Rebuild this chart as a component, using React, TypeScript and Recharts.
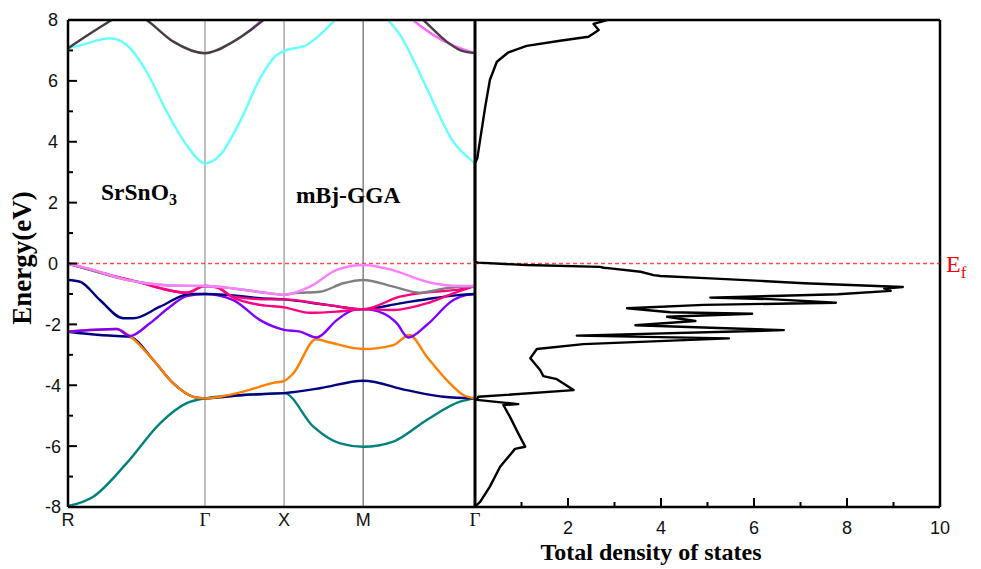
import React from 'react';
import { ComposedChart, Line, XAxis, YAxis, ReferenceLine, ScatterChart, Scatter } from 'recharts';

type Pt = [number, number];

// path R-Γ-X-M-Γ, lengths in units of 2π/a
const kPoints = [0, 0.866, 1.366, 1.866, 2.573];
const kLabels = ['R', 'Γ', 'X', 'M', 'Γ'];
const energyTicks = [-8, -7, -6, -5, -4, -3, -2, -1, 0, 1, 2, 3, 4, 5, 6, 7, 8];
const dosTicks = [0, 1, 2, 3, 4, 5, 6, 7, 8, 9, 10];
const fermiLevel = 0;

// bands as [k, E(eV)]
const bandTeal: Pt[] = [
  [0, -7.97], [0.16, -7.66], [0.371, -6.56], [0.582, -5.25], [0.75, -4.59], [0.866, -4.43],
  [1.108, -4.32], [1.366, -4.26], [1.551, -5.36], [1.72, -5.91], [1.866, -6.02], [2.057, -5.85],
  [2.268, -5.14], [2.478, -4.54], [2.573, -4.43],
];
const bandNavyLow: Pt[] = [
  [0, -2.24], [0.202, -2.35], [0.371, -2.4], [0.392, -2.41], [0.539, -3.17], [0.666, -3.94],
  [0.792, -4.38], [0.866, -4.43], [1.108, -4.32], [1.366, -4.26], [1.593, -4.1], [1.866, -3.85],
  [2.141, -4.16], [2.373, -4.38], [2.573, -4.43],
];
const bandOrange: Pt[] = [
  [0, -2.24], [0.308, -2.15], [0.392, -2.39], [0.539, -3.17], [0.666, -3.94], [0.792, -4.38],
  [0.866, -4.43], [1.108, -4.21], [1.298, -3.92], [1.366, -3.86], [1.424, -3.61], [1.568, -2.49],
  [1.636, -2.57], [1.866, -2.81], [2.057, -2.68], [2.158, -2.35], [2.268, -3.06], [2.394, -3.83],
  [2.499, -4.32], [2.573, -4.43],
];
const bandPurple: Pt[] = [
  [0, -2.24], [0.308, -2.15], [0.392, -2.38], [0.518, -1.96], [0.645, -1.42], [0.75, -1.07],
  [0.866, -1.0], [1.045, -1.2], [1.214, -1.86], [1.366, -2.18], [1.467, -2.24], [1.572, -2.43],
  [1.699, -1.86], [1.804, -1.53], [1.866, -1.5], [1.993, -1.64], [2.078, -1.96], [2.151, -2.43],
  [2.268, -2.02], [2.436, -1.2], [2.521, -1.03], [2.573, -1.0],
];
const bandNavyHigh: Pt[] = [
  [0, -0.54], [0.076, -0.6], [0.202, -1.2], [0.35, -1.8], [0.413, -1.8], [0.582, -1.42],
  [0.771, -1.0], [0.866, -1.0], [1.003, -1.03], [1.214, -1.14], [1.366, -1.18], [1.636, -1.36],
  [1.866, -1.5], [2.099, -1.31], [2.309, -1.14], [2.478, -1.03], [2.573, -1.0],
];
const bandRoseLow: Pt[] = [
  [0, 0], [0.266, -0.38], [0.476, -0.65], [0.582, -0.81], [0.75, -0.96], [0.866, -0.74],
  [0.94, -0.78], [1.045, -1.12], [1.214, -1.36], [1.366, -1.44], [1.53, -1.62], [1.699, -1.58],
  [1.866, -1.5], [2.057, -1.53], [2.268, -1.31], [2.436, -0.98], [2.573, -0.74],
];
const bandRoseHigh: Pt[] = [
  [0, 0], [0.266, -0.38], [0.476, -0.65], [0.582, -0.81], [0.75, -0.96], [0.866, -0.74],
  [0.94, -0.78], [1.045, -1.09], [1.277, -1.18], [1.366, -1.18], [1.636, -1.36], [1.866, -1.5],
  [2.099, -1.09], [2.309, -0.93], [2.478, -0.85], [2.573, -0.74],
];
const bandGray: Pt[] = [
  [0, 0], [0.16, -0.24], [0.371, -0.54], [0.497, -0.65], [0.687, -0.73], [0.866, -0.74],
  [1.045, -0.82], [1.277, -0.98], [1.366, -1.03], [1.424, -0.98], [1.593, -0.93], [1.74, -0.65],
  [1.866, -0.54], [2.057, -0.76], [2.225, -0.96], [2.394, -0.81], [2.573, -0.74],
];
const bandViolet: Pt[] = [
  [0, 0], [0.16, -0.21], [0.371, -0.54], [0.497, -0.65], [0.687, -0.73], [0.866, -0.74],
  [1.045, -0.82], [1.277, -0.98], [1.366, -1.03], [1.53, -0.76], [1.699, -0.21], [1.866, -0.05],
  [2.047, -0.21], [2.268, -0.6], [2.426, -0.73], [2.573, -0.74],
];
const bandCyan: Pt[] = [
  [0, 7.07], [0.1, 7.2], [0.266, 7.4], [0.371, 7.18], [0.497, 6.3], [0.624, 4.99], [0.75, 3.89],
  [0.866, 3.29], [0.961, 3.56], [1.087, 4.66], [1.214, 6.08], [1.319, 6.85], [1.366, 6.98],
  [1.509, 7.18], [1.593, 7.51], [1.688, 8.0], [1.866, 8.9], [2.025, 8.0], [2.099, 7.51],
  [2.268, 5.76], [2.436, 4.0], [2.563, 3.34], [2.573, 3.3],
];
const bandMagentaC: Pt[] = [
  [1.15, 7.64], [1.235, 8.05], [1.366, 8.7], [1.866, 9.8], [2.181, 8.0],
  [2.426, 7.18], [2.573, 6.91],
];
const bandDark: Pt[] = [
  [0, 7.07], [0.16, 7.62], [0.276, 8.0], [0.387, 8.35], [0.497, 8.0], [0.666, 7.29],
  [0.866, 6.91], [1.045, 7.29], [1.235, 8.0], [1.366, 8.6], [1.866, 9.5], [2.246, 8.0],
  [2.394, 7.29], [2.478, 7.01], [2.573, 6.91],
];

const bands: { id: string; pts: Pt[]; color: string }[] = [
  { id: 'teal', pts: bandTeal, color: '#008080' },
  { id: 'navyLow', pts: bandNavyLow, color: '#000080' },
  { id: 'orange', pts: bandOrange, color: '#ff8000' },
  { id: 'purple', pts: bandPurple, color: '#8000ff' },
  { id: 'navyHigh', pts: bandNavyHigh, color: '#000080' },
  { id: 'roseLow', pts: bandRoseLow, color: '#ff0080' },
  { id: 'roseHigh', pts: bandRoseHigh, color: '#ff0080' },
  { id: 'gray', pts: bandGray, color: '#808080' },
  { id: 'violet', pts: bandViolet, color: '#ff80ff' },
  { id: 'cyan', pts: bandCyan, color: '#66ffff' },
  { id: 'magentaC', pts: bandMagentaC, color: '#ff66ff' },
  { id: 'dark', pts: bandDark, color: '#473c47' },
];

// total DOS, traced from top of the window down
const dosEnergy = [
  8.0, 7.87, 7.67, 7.56, 7.45, 7.32, 7.15, 6.94, 6.63, 6.03, 5.15, 4.06, 3.46, 3.3, 0.05, 0.03,
  -0.05, -0.11, -0.14, -0.16, -0.27, -0.38, -0.41, -0.49, -0.57, -0.65, -0.77, -0.82, -0.9,
  -1.01, -1.12, -1.17, -1.29, -1.36, -1.47, -1.6, -1.65, -1.75, -1.89, -2.03, -2.19, -2.37,
  -2.46, -2.65, -2.81, -3.11, -3.5, -3.7, -3.8, -4.16, -4.38, -4.48, -4.57, -4.62, -4.65,
  -5.03, -5.58, -6.02, -6.09, -6.68, -7.33, -7.83, -7.93, -8.0,
];
const dosValue = [
  2.84, 2.55, 2.66, 2.55, 2.44, 1.83, 1.11, 0.72, 0.47, 0.32, 0.22, 0.11, 0.05, 0, 0, 0.07,
  1.11, 2.69, 2.77, 2.91, 3.56, 3.84, 3.99, 5.06, 6.14, 7.08, 9.2, 8.8, 8.94,
  7.8, 5.06, 6.36, 7.76, 4.92, 3.27, 4.2, 5.96, 4.13, 4.74, 3.45, 6.64, 2.19,
  5.46, 2.33, 1.33, 1.19, 1.4, 1.47, 1.76, 2.12, 0.07, 0.04, 0.61, 0.93, 0.61,
  0.75, 0.93, 1.08, 0.86, 0.54, 0.32, 0.11, 0.04, 0,
];

const dosData = dosEnergy.map((e, i) => ({ e, dos: dosValue[i] }));

const symmetryLines = [
  { k: kPoints[1], color: '#a8a8a8' },
  { k: kPoints[2], color: '#a8a8a8' },
  { k: kPoints[3], color: '#808080' },
];

// dashed Fermi level, drawn as a series in each panel
const fermiBand = [{ k: kPoints[0], e: fermiLevel }, { k: kPoints[4], e: fermiLevel }];
const fermiDos = [{ dos: dosTicks[0], e: fermiLevel }, { dos: dosTicks[dosTicks.length - 1], e: fermiLevel }];

const FERMI_COLOR = '#ff0000';
const SANS = '"Liberation Sans", Arial, sans-serif';
const SERIF = '"Liberation Serif", "Times New Roman", serif';

const EnergyTick = (props: any) => {
  const { x, y, payload } = props;
  const v = payload.value as number;
  const major = v % 2 === 0;
  return (
    <g>
      <line x1={x} x2={x + (major ? 9 : 5)} y1={y} y2={y} stroke="#000" strokeWidth={2} />
      {major && (
        <text x={x - 15} y={y} dy="0.36em" textAnchor="middle" fontFamily={SANS} fontSize={18} fill="#111">
          {v}
        </text>
      )}
    </g>
  );
};

const KTick = (props: any) => {
  const { x, y, index } = props;
  const label = kLabels[index];
  const greek = label === 'Γ';
  return (
    <text x={x} y={y + 19} textAnchor="middle" fontFamily={greek ? SERIF : SANS} fontSize={greek ? 19 : 18} fill="#111">
      {label}
    </text>
  );
};

const DosTick = (props: any) => {
  const { x, y, payload } = props;
  const v = payload.value as number;
  const major = v % 2 === 0;
  return (
    <g>
      {v > 0 && v < 10 && (
        <line x1={x} x2={x} y1={y} y2={y - (major ? 9 : 5)} stroke="#000" strokeWidth={2} />
      )}
      {major && v > 0 && (
        <text x={x} y={y + 27} textAnchor="middle" fontFamily={SANS} fontSize={18} fill="#111">
          {v}
        </text>
      )}
    </g>
  );
};

export default function App() {
  return (
    <div style={{ position: 'relative', width: 981, height: 569, background: '#fff' }}>
      <style>{'body{margin:0}'}</style>
      <div style={{ position: 'absolute', left: 0, top: 0 }}>
        <ComposedChart width={490} height={569} margin={{ top: 20, right: 15, bottom: 32, left: 0 }}>
          <XAxis
            type="number"
            dataKey="k"
            domain={[0, 2.573]}
            ticks={kPoints}
            interval={0}
            allowDataOverflow
            height={30}
            axisLine={{ stroke: '#000', strokeWidth: 2.5 }}
            tickLine={false}
            tickSize={0}
            tickMargin={0}
            tick={(p: any) => <KTick {...p} />}
          />
          <YAxis
            type="number"
            domain={[-8, 8]}
            ticks={energyTicks}
            interval={0}
            allowDataOverflow
            width={68}
            axisLine={{ stroke: '#000', strokeWidth: 2.5 }}
            tickLine={false}
            tickSize={0}
            tickMargin={0}
            tick={(p: any) => <EnergyTick {...p} />}
          />
          {symmetryLines.map((s) => (
            <Line
              key={`sym-${s.k}`}
              data={[{ k: s.k, e: -8 }, { k: s.k, e: 8 }]}
              dataKey="e"
              type="linear"
              stroke={s.color}
              strokeWidth={1.5}
              dot={false}
              activeDot={false}
              isAnimationActive={false}
            />
          ))}
          <Line
            data={fermiBand}
            dataKey="e"
            type="linear"
            stroke={FERMI_COLOR}
            strokeOpacity={0.7}
            strokeWidth={1.6}
            strokeDasharray="4 3"
            dot={false}
            activeDot={false}
            isAnimationActive={false}
          />
          {bands.map((b) => (
            <Line
              key={b.id}
              data={b.pts.map(([k, e]) => ({ k, e }))}
              dataKey="e"
              type="monotone"
              stroke={b.color}
              strokeWidth={2.4}
              dot={false}
              activeDot={false}
              isAnimationActive={false}
            />
          ))}
          <ReferenceLine y={8} stroke="#000" strokeWidth={2.5} />
        </ComposedChart>
      </div>
      <div style={{ position: 'absolute', left: 0, top: 0 }}>
        <ScatterChart width={981} height={569} margin={{ top: 20, right: 41, bottom: 32, left: 475 }}>
          <XAxis
            type="number"
            dataKey="dos"
            domain={[0, 10]}
            ticks={dosTicks}
            interval={0}
            height={30}
            axisLine={{ stroke: '#000', strokeWidth: 2.5 }}
            tickLine={false}
            tickSize={0}
            tickMargin={0}
            tick={(p: any) => <DosTick {...p} />}
          />
          <YAxis type="number" dataKey="e" domain={[-8, 8]} allowDataOverflow hide />
          <Scatter
            data={fermiDos}
            line={{ stroke: FERMI_COLOR, strokeOpacity: 0.7, strokeWidth: 1.6, strokeDasharray: '4 3' }}
            lineType="joint"
            shape={() => null}
            isAnimationActive={false}
          />
          <Scatter
            data={dosData}
            line={{ stroke: '#000', strokeWidth: 2.4, strokeLinejoin: 'round' }}
            lineType="joint"
            shape={() => null}
            isAnimationActive={false}
          />
          <ReferenceLine y={8} stroke="#000" strokeWidth={2.5} />
          <ReferenceLine x={0} stroke="#000" strokeWidth={3} />
          <ReferenceLine x={10} stroke="#000" strokeWidth={2.5} />
        </ScatterChart>
      </div>
      <svg width={981} height={569} style={{ position: 'absolute', left: 0, top: 0, pointerEvents: 'none' }}>
        <text x={101} y={200} fontFamily={SERIF} fontWeight="bold" fontSize={23.5} fill="#000">
          SrSnO
          <tspan fontSize={16} dy={5}>3</tspan>
        </text>
        <text x={296} y={203} fontFamily={SERIF} fontWeight="bold" fontSize={23.5} fill="#000">
          mBj-GGA
        </text>
        <text
          x={0}
          y={0}
          transform="translate(31 258) rotate(-90)"
          textAnchor="middle"
          fontFamily={SERIF}
          fontWeight="bold"
          fontSize={27}
          fill="#000"
        >
          Energy(eV)
        </text>
        <text x={651} y={560} textAnchor="middle" fontFamily={SERIF} fontWeight="bold" fontSize={24} fill="#000">
          Total density of states
        </text>
        <text x={946} y={272} fontFamily={SERIF} fontSize={24} fill={FERMI_COLOR}>
          E
          <tspan fontSize={17} dy={6}>f</tspan>
        </text>
      </svg>
    </div>
  );
}
